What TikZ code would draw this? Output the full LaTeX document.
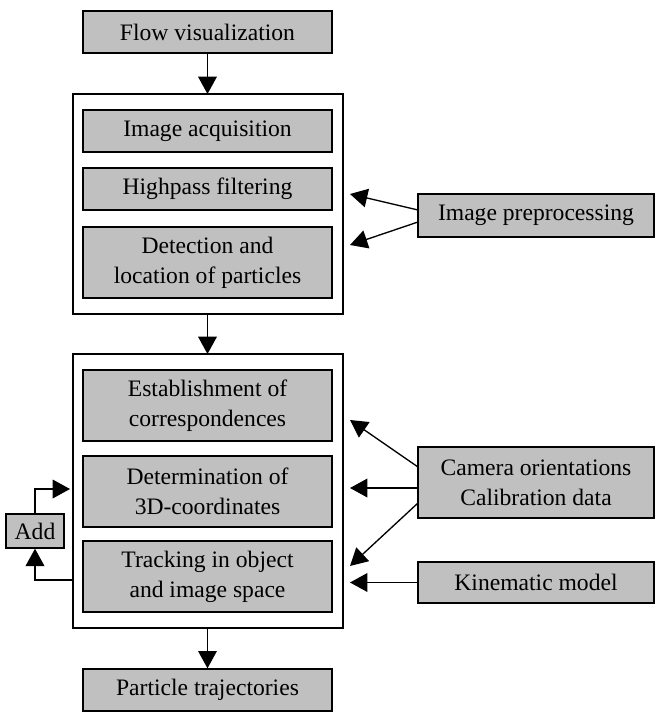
\documentclass[tikz,border=0pt]{standalone}
\usepackage{fontspec}
\setmainfont{Liberation Serif}
\usetikzlibrary{arrows.meta}
\definecolor{boxgray}{HTML}{C0C0C0}
\begin{document}
\begin{tikzpicture}[x=0.75pt,y=-0.75pt,
  gbox/.style={draw=black,fill=boxgray,line width=1pt,minimum width=249*0.75pt,inner sep=0pt,align=center,font=\fontsize{17.7}{22.5}\selectfont},
  obox/.style={draw=black,line width=1pt},
  arr/.style={-{Triangle[length=13pt,width=14pt]},line width=1pt},
  ln/.style={line width=1pt}]
\useasboundingbox (0,0) rectangle (664,718);
% outer boxes
\draw[obox] (73,94) rectangle (343,314);
\draw[obox] (73,354) rectangle (343,628);
\coordinate (o1t) at (207.5,94);
\coordinate (o1b) at (207.5,314);
\coordinate (o2t) at (207.5,354);
\coordinate (o2b) at (207.5,628);
% gray boxes
\node[gbox,minimum height=42*0.75pt] (flow) at (207.5,32) {Flow visualization};
\node[gbox,minimum height=42*0.75pt] (acq) at (207.5,131) {Image acquisition};
\node[gbox,minimum height=42*0.75pt] (hp) at (207.5,189) {Highpass filtering};
\node[gbox,minimum height=71*0.75pt] (det) at (207.5,262.5) {Detection and\\location of particles};
\node[gbox,minimum height=71*0.75pt] (est) at (207.5,405.5) {Establishment of\\correspondences};
\node[gbox,minimum height=71*0.75pt] (dtm) at (207.5,491.5) {Determination of\\3D-coordinates};
\node[gbox,minimum height=71*0.75pt] (trk) at (207.5,576.5) {Tracking in object\\and image space};
\node[gbox,minimum height=42*0.75pt] (traj) at (207.5,690) {Particle trajectories};
\node[gbox,minimum width=236*0.75pt,minimum height=43*0.75pt] (pre) at (536,215.5) {Image preprocessing};
\node[gbox,minimum width=236*0.75pt,minimum height=71*0.75pt] (cam) at (536,482.5) {Camera orientations\\Calibration data};
\node[gbox,minimum width=236*0.75pt,minimum height=41*0.75pt] (kin) at (536,582.5) {Kinematic model};
\node[gbox,minimum width=58*0.75pt,minimum height=34*0.75pt] (add) at (35,531) {Add};
% coordinates for arrow ends
\coordinate (p1) at (350,194);
\coordinate (p2) at (350,245);
\coordinate (c1) at (350,420);
\coordinate (c2) at (350,488);
\coordinate (c3) at (350,566);
\coordinate (k1) at (350,582.5);
\coordinate (addin) at (70,489);
\coordinate (addout) at (73,580);
% vertical arrows
\draw[arr] (flow.south) -- (o1t);
\draw[arr] (o1b) -- (o2t);
\draw[arr] (o2b) -- (traj.north);
% side arrows
\draw[arr] (418,210) -- (p1);
\draw[arr] (418,222) -- (p2);
\draw[arr] (418,467) -- (c1);
\draw[arr] (cam.west) ++(0,5.5) -- (c2);
\draw[arr] (418,503) -- (c3);
\draw[arr] (kin.west) -- (k1);
% add loop
\draw[arr] (add.north) -- (35,489) -- (addin);
\draw[arr] (addout) -- (35,580) -- (add.south);
\end{tikzpicture}
\end{document}
